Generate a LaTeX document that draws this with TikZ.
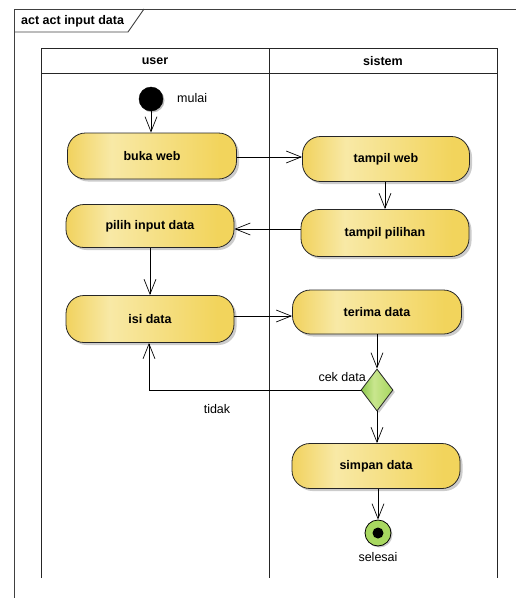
\documentclass[tikz,border=0pt]{standalone}
\usepackage{fontspec}
\setmainfont{Liberation Sans}
\usetikzlibrary{arrows.meta,shapes.geometric,shadows}
\definecolor{actL}{HTML}{F1D25E}
\definecolor{actM}{HTML}{F8E9A6}
\definecolor{actR}{HTML}{F2D45C}
\definecolor{decL}{HTML}{8CC84B}
\definecolor{decM}{HTML}{C9E68E}
\definecolor{decR}{HTML}{A6D65E}
\definecolor{finG}{HTML}{A8D860}
\pgfdeclarehorizontalshading{actshade}{100bp}{color(0bp)=(actL); color(25bp)=(actL); color(38bp)=(actM); color(70bp)=(actR); color(100bp)=(actR)}
\pgfdeclarehorizontalshading{decshade}{100bp}{color(0bp)=(decL); color(25bp)=(decL); color(45bp)=(decM); color(75bp)=(decR); color(100bp)=(decR)}
\tikzset{
  actbox/.style={draw=black!85, line width=0.8pt, rounded corners=18pt,
    shading=actshade,
    font=\fontsize{12.5}{14}\selectfont\bfseries, inner sep=0pt,
    drop shadow={shadow xshift=2.5pt, shadow yshift=-2.5pt, fill=black, opacity=0.2}},
  flow/.style={draw=black, line width=0.7pt, -{Straight Barb[length=15pt,width=12pt,line width=0.7pt]}},
  lbl/.style={font=\fontsize{12.5}{14}\selectfont, inner sep=0pt},
  hdr/.style={font=\fontsize{12.5}{14}\selectfont\bfseries, inner sep=0pt},
  frameline/.style={draw=black!75, line width=0.9pt},
  laneline/.style={draw=black!85, line width=0.9pt},
}
\begin{document}
\begin{tikzpicture}[x=1pt,y=-1pt]
\useasboundingbox (0,0) rectangle (516,598);
% frame
\draw[frameline] (14,598) -- (14,9) -- (516,9);
\draw[frameline] (14,32) -- (128,32) -- (144,9);
\node[hdr, anchor=west] (title) at (21,21) {act act input data};
% swimlanes
\draw[laneline] (41,578) -- (41,48) -- (497,48) -- (497,578);
\draw[laneline] (41,73) -- (497,73);
\draw[laneline] (269,48) -- (269,578);
\node[hdr] (luser) at (155,61) {user};
\node[hdr] (lsis) at (383,61) {sistem};
% start
\node[circle, fill=black, draw=black, minimum size=24pt, inner sep=0pt,
  drop shadow={shadow xshift=1.5pt, shadow yshift=-1.5pt, fill=black, opacity=0.25}] (start) at (151,99) {};
\node[lbl, anchor=west] (mulai) at (177,98) {mulai};
% activities
\node[actbox, minimum width=169pt, minimum height=46pt] (buka) at (152,156) {buka web};
\node[actbox, minimum width=168pt, minimum height=43pt] (pilih) at (150,226) {pilih input data};
\node[actbox, minimum width=168pt, minimum height=47pt] (isi) at (150,319) {isi data};
\node[actbox, minimum width=167pt, minimum height=45pt] (tweb) at (386,159) {tampil web};
\node[actbox, minimum width=168pt, minimum height=47pt] (tpil) at (385,233) {tampil pilihan};
\node[actbox, minimum width=169pt, minimum height=44pt] (terima) at (377,312) {terima data};
\node[actbox, minimum width=168pt, minimum height=45pt] (simpan) at (376,466) {simpan data};
% decision
\node[diamond, draw=black!85, line width=0.8pt, minimum width=32pt, minimum height=42pt, inner sep=0pt,
  aspect=0.76, shading=decshade,
  drop shadow={shadow xshift=2pt, shadow yshift=-2pt, fill=black, opacity=0.2}] (dec) at (377,390) {};
\node[lbl, anchor=east] (cek) at (366,377) {cek data};
% final
\node[circle, draw=black, line width=0.8pt, fill=finG, minimum size=26pt, inner sep=0pt,
  drop shadow={shadow xshift=1.5pt, shadow yshift=-1.5pt, fill=black, opacity=0.2}] (fin) at (378,533) {};
\node[circle, fill=black, minimum size=11pt, inner sep=0pt] (findot) at (fin.center) {};
\node[lbl] (selesai) at (378,557) {selesai};
% flows
\draw[flow] (start) -- (buka.north -| start);
\draw[flow] (buka.east |- 0,157) -- (tweb.west |- 0,157);
\draw[flow] (tweb.south -| 385,0) -- (tpil.north -| 385,0);
\draw[flow] (tpil.west |- 0,229) -- (pilih.east |- 0,229);
\draw[flow] (pilih) -- (isi);
\draw[flow] (isi.east |- 0,316) -- (terima.west |- 0,316);
\draw[flow] (terima.south -| dec) -- (dec.north);
\draw[flow] (dec.west) -- (149,390) -- (isi.south -| 149,0);
\node[lbl] (tidak) at (217,409) {tidak};
\draw[flow] (dec.south) -- (simpan.north -| dec);
\draw[flow] (simpan.south -| fin) -- (fin.north);
\end{tikzpicture}
\end{document}
